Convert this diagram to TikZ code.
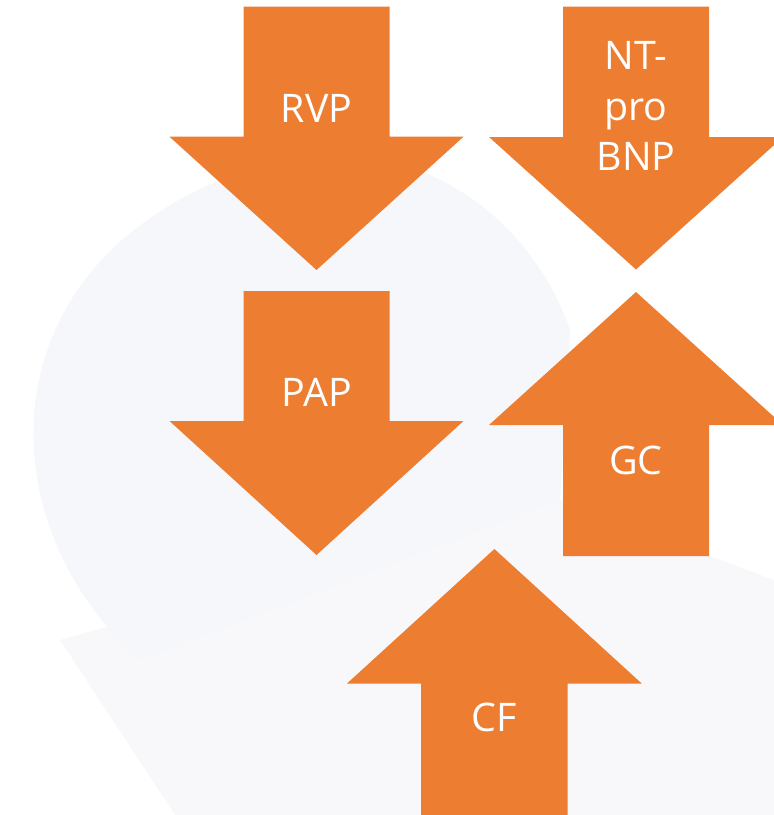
\documentclass[tikz,border=0pt]{standalone}
\usepackage{fontspec}
\setmainfont{Open Sans}
\usepackage{tikz}
\usetikzlibrary{positioning}
\definecolor{arroworange}{HTML}{ED7D31}
\definecolor{bglobe}{HTML}{F5F7FA}
\definecolor{bgband}{HTML}{F8F8FB}
\tikzset{
  blockarrow/.style={fill=arroworange, draw=none},
  arrowlabel/.style={text=white, font=\fontsize{28}{35.6}\selectfont, inner sep=0pt, anchor=base},
}

\begin{document}
\begin{tikzpicture}[x=0.025cm, y=-0.025cm]
        \useasboundingbox (0,0) rectangle (774,815);
        \clip (0,0) rectangle (774,815);

        % faint background
        \fill[bgband] (60,640) -- (175,815) -- (774,815) -- (774,580) -- (560,500) -- cycle;
        \fill[bglobe] (140,660) .. controls (-20,520) and (-20,240) .. (280,160)
                      .. controls (440,130) and (540,240) .. (570,330) -- (560,500) -- cycle;

        % down arrows
        \fill[blockarrow] (243.5,6.5) -- (389.5,6.5) -- (389.5,136.7) -- (463.5,136.7)
                          -- (316.5,270) -- (169.5,136.7) -- (243.5,136.7) -- cycle;
        \fill[blockarrow] (563,6.5) -- (709,6.5) -- (709,137) -- (783,137)
                          -- (636,269.5) -- (489,137) -- (563,137) -- cycle;
        \fill[blockarrow] (243.5,291) -- (389.5,291) -- (389.5,421) -- (463.5,421)
                          -- (316.5,555) -- (169.5,421) -- (243.5,421) -- cycle;

        % up arrows
        \fill[blockarrow] (636,292) -- (783,425) -- (709,425) -- (709,556)
                          -- (563,556) -- (563,425) -- (489,425) -- cycle;
        \fill[blockarrow] (494.4,549) -- (641.7,683.5) -- (567.6,683.5) -- (567.6,820)
                          -- (421,820) -- (421,683.5) -- (347,683.5) -- cycle;

        \node[arrowlabel] (rvp) at (316.5,122) {RVP};
        \node[arrowlabel, anchor=center, align=center] (bnp) at (636,106) {NT-\\pro\\BNP};
        \node[arrowlabel] (pap) at (316.5,406) {PAP};
        \node[arrowlabel] (gc) at (636,474) {GC};
        \node[arrowlabel] (cf) at (494.4,731) {CF};

\end{tikzpicture}
\end{document}
